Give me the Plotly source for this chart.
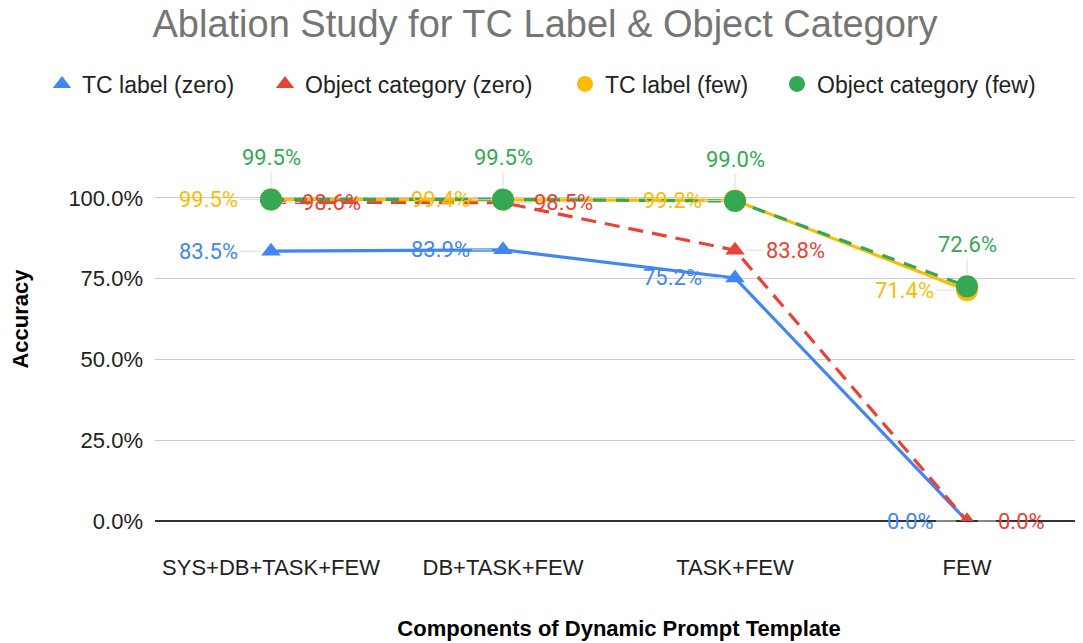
import plotly.graph_objects as go

categories = ["SYS+DB+TASK+FEW", "DB+TASK+FEW", "TASK+FEW", "FEW"]
tc_zero = [83.5, 83.9, 75.2, 0.0]
obj_zero = [98.6, 98.5, 83.8, 0.0]
tc_few = [99.5, 99.4, 99.2, 71.4]
obj_few = [99.5, 99.5, 99.0, 72.6]
y_ticks = [0, 25, 50, 75, 100]
y_tick_text = ["0.0%", "25.0%", "50.0%", "75.0%", "100.0%"]

BLUE, RED, YELLOW, GREEN = "#4285F4", "#EA4335", "#FBBC04", "#34A853"
SANS = "Liberation Sans, Arial, sans-serif"
LABEL_FONT = "Roboto"

# The page body adds an 8px offset; the figure is sized to fill the rest of the window.
W, H = 1075, 635

series = [
    ("TC label (zero)", tc_zero, BLUE, "solid", "triangle-up", 17, "left"),
    ("Object category (zero)", obj_zero, RED, "15px,9px", "triangle-up", 17, "right"),
    ("TC label (few)", tc_few, YELLOW, "solid", "circle", 22, "left"),
    ("Object category (few)", obj_few, GREEN, "13px,10px", "circle", 22, "top"),
]
legend_left_px = [34, 257, 557, 769]

fig = go.Figure()
annotations = []
legend_layouts = {}
for i, (name, vals, color, dash, sym, size, pos) in enumerate(series):
    fig.add_trace(go.Scatter(
        x=categories, y=vals, mode="lines+markers", name=name, showlegend=False,
        line=dict(color=color, width=3.2, dash=dash),
        marker=dict(symbol=sym, size=size, color=color),
    ))
    lg = "legend" if i == 0 else f"legend{i + 1}"
    fig.add_trace(go.Scatter(
        x=[None], y=[None], mode="markers", name=name, legend=lg,
        marker=dict(symbol=sym, size=18 if sym == "circle" else 16, color=color),
    ))
    legend_layouts[lg] = dict(
        orientation="h", x=legend_left_px[i] / W, xref="container", xanchor="left",
        y=1 - 76 / H, yref="container", yanchor="middle",
        bgcolor="rgba(0,0,0,0)",
        font=dict(family=SANS, size=23, color="#222222"),
    )
    for c, v in zip(categories, vals):
        a = dict(x=c, y=v, xref="x", yref="y", text=f"{v:.1f}%",
                 showarrow=True, arrowhead=0, arrowwidth=1, arrowcolor="#dddddd",
                 standoff=11, font=dict(family=LABEL_FONT, size=22, color=color))
        if pos == "left":
            a.update(ax=-31, ay=0, xanchor="right", yanchor="middle")
        elif pos == "right":
            a.update(ax=29, ay=0, xanchor="left", yanchor="middle")
        else:
            a.update(ax=0, ay=-27, xanchor="center", yanchor="bottom")
        annotations.append(a)

fig.update_layout(
    width=W, height=H,
    margin=dict(l=147, r=0, t=109, b=122, autoexpand=False),
    paper_bgcolor="white", plot_bgcolor="white",
    font=dict(family=SANS, size=23, color="#222222"),
    title=dict(text="Ablation Study for TC Label & Object Category",
               x=537 / W, xanchor="center", y=1 - 16 / H, yref="container", yanchor="middle",
               font=dict(family=SANS, size=38, color="#757575")),
    annotations=annotations,
    showlegend=True,
    **legend_layouts,
)
fig.update_xaxes(
    type="category", range=[-0.5, 3.5], showgrid=False, automargin=False,
    showline=False, ticks="", ticklabelstandoff=31,
    tickfont=dict(family=SANS, size=22, color="#222222"),
    title=dict(text="<b>Components of Dynamic Prompt Template</b>", standoff=41,
               font=dict(family=SANS, size=22, color="#000000")),
)
fig.update_yaxes(
    range=[0, 125], tickvals=y_ticks, ticktext=y_tick_text, automargin=False,
    showgrid=True, gridcolor="#cccccc", gridwidth=1,
    zeroline=True, zerolinecolor="#333333", zerolinewidth=1.5,
    tickfont=dict(family=SANS, size=22, color="#222222"),
    ticklabelstandoff=11,
    title=dict(text="<b>Accuracy</b>", standoff=33,
               font=dict(family=SANS, size=22, color="#000000")),
)

fig.write_html("out.html")
